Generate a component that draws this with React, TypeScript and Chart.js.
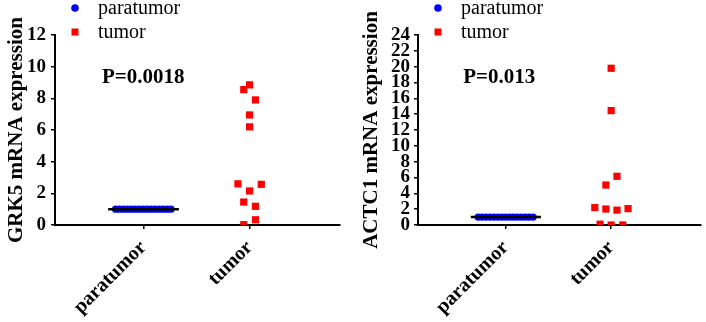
import React, { useEffect, useRef } from "react";
import { Chart, registerables } from "chart.js";

Chart.register(...registerables);

// ---------- data ----------
const categories = ["paratumor", "tumor"];
const legendLabels = ["paratumor", "tumor"];

// GRK5 panel
const grk5Title = "GRK5 mRNA expression";
const grk5P = "P=0.0018";
const grk5Ticks = [0, 2, 4, 6, 8, 10, 12];
const grk5ParaValues = [1, 1, 1, 1, 1, 1, 1, 1, 1, 1, 1, 1, 1, 1, 1];
const grk5ParaJitter = [-0.26, -0.223, -0.186, -0.149, -0.111, -0.074, -0.037, 0, 0.037, 0.074, 0.111, 0.149, 0.186, 0.223, 0.26];
const grk5TumorValues = [8.85, 8.55, 7.9, 6.95, 6.2, 2.6, 2.57, 2.15, 1.45, 1.18, 0.33, 0.02];
const grk5TumorJitter = [0, -0.055, 0.055, 0, 0, -0.11, 0.11, 0, -0.055, 0.055, 0.055, -0.055];
const grk5ParaMedian = 1;

// ACTC1 panel
const actc1Title = "ACTC1 mRNA expression";
const actc1P = "P=0.013";
const actc1Ticks = [0, 2, 4, 6, 8, 10, 12, 14, 16, 18, 20, 22, 24];
const actc1ParaValues = [1, 1, 1, 1, 1, 1, 1, 1, 1, 1, 1, 1, 1, 1, 1];
const actc1ParaJitter = [-0.26, -0.223, -0.186, -0.149, -0.111, -0.074, -0.037, 0, 0.037, 0.074, 0.111, 0.149, 0.186, 0.223, 0.26];
const actc1TumorValues = [19.8, 14.45, 6.15, 5.05, 2.2, 2.02, 1.88, 2.07, 0.1, 0.0, 0.0];
const actc1TumorJitter = [0, 0, 0.055, -0.05, -0.155, -0.05, 0.055, 0.16, -0.105, 0, 0.11];
const actc1ParaMedian = 1;

const SERIF = "'Liberation Serif', 'Times New Roman', serif";
const BLUE = "#0000ff";
const RED = "#ff0000";

type PanelProps = {
  title: string;
  pText: string;
  pPos: [number, number];
  ticks: number[];
  paraValues: number[];
  paraJitter: number[];
  tumorValues: number[];
  tumorJitter: number[];
  median: number;
  yWidth: number;
  padRight: number;
  titlePad: number;
  tickPad: number;
};

const legendPlugin = {
  id: "customLegend",
  afterDraw(chart: any) {
    const ctx = chart.ctx;
    const left = chart.chartArea.left;
    const ds = chart.data.datasets;
    ctx.save();
    ctx.font = `20px ${SERIF}`;
    ctx.textBaseline = "middle";
    ctx.textAlign = "left";
    ctx.fillStyle = ds[1].backgroundColor;
    ctx.beginPath();
    ctx.arc(left + 20, 8, 3.8, 0, Math.PI * 2);
    ctx.fill();
    ctx.fillStyle = "#000";
    ctx.fillText(legendLabels[0], left + 43, 9);
    ctx.fillStyle = ds[2].backgroundColor;
    ctx.fillRect(left + 16.5, 28.5, 7, 7);
    ctx.fillStyle = "#000";
    ctx.fillText(legendLabels[1], left + 43, 33);
    ctx.restore();
  },
};

const pTextPlugin = {
  id: "pText",
  afterDraw(chart: any, _args: any, opts: any) {
    const ctx = chart.ctx;
    const x = chart.scales.x.getPixelForValue(opts.pos[0]);
    const y = chart.scales.y.getPixelForValue(opts.pos[1]);
    ctx.save();
    ctx.font = `bold 21px ${SERIF}`;
    ctx.fillStyle = "#000";
    ctx.textAlign = "center";
    ctx.textBaseline = "alphabetic";
    ctx.fillText(opts.text, x, y);
    ctx.restore();
  },
};

function Panel(p: PanelProps) {
  const ref = useRef<HTMLCanvasElement | null>(null);
  useEffect(() => {
    if (!ref.current) return;
    const paraData = p.paraValues.map((v, i) => ({ x: 1 + p.paraJitter[i], y: v }));
    const tumorData = p.tumorValues.map((v, i) => ({ x: 2 + p.tumorJitter[i], y: v }));
    const chart = new Chart(ref.current, {
      type: "scatter",
      data: {
        datasets: [
          {
            type: "line",
            label: "median",
            data: [
              { x: 0.67, y: p.median },
              { x: 1.335, y: p.median },
            ],
            borderColor: "#000",
            borderWidth: 2.5,
            pointRadius: 0,
            fill: false,
          } as any,
          {
            label: legendLabels[0],
            data: paraData,
            backgroundColor: BLUE,
            borderColor: BLUE,
            borderWidth: 0,
            pointStyle: "circle",
            pointRadius: 3.7,
          },
          {
            label: legendLabels[1],
            data: tumorData,
            backgroundColor: RED,
            borderColor: RED,
            borderWidth: 0,
            pointStyle: "rect",
            pointRadius: 5.1,
          },
        ],
      },
      options: {
        animation: false,
        responsive: false,
        devicePixelRatio: 1,
        layout: { padding: { top: 35, right: p.padRight, left: 0, bottom: 0 } },
        plugins: {
          legend: { display: false },
          tooltip: { enabled: false },
          pText: { text: p.pText, pos: p.pPos },
        } as any,
        scales: {
          x: {
            type: "linear",
            min: 0.17,
            max: 2.85,
            afterBuildTicks: (scale: any) => {
              scale.ticks = categories.map((_, i) => ({ value: i + 1 }));
            },
            afterFit: (scale: any) => {
              scale.height = 97;
            },
            ticks: {
              autoSkip: false,
              minRotation: 45,
              maxRotation: 45,
              color: "#000",
              padding: 7,
              font: { family: SERIF, size: 20, weight: "bold" },
              callback: (v: any) => categories[Math.round(v) - 1] ?? "",
            },
            grid: {
              display: true,
              drawOnChartArea: false,
              drawTicks: true,
              tickLength: 4,
              color: "#000",
              lineWidth: 1.5,
            },
            border: { display: true, color: "#000", width: 2 },
          },
          y: {
            type: "linear",
            min: p.ticks[0],
            max: p.ticks[p.ticks.length - 1],
            afterBuildTicks: (scale: any) => {
              scale.ticks = p.ticks.map((v) => ({ value: v }));
            },
            afterFit: (scale: any) => {
              scale.width = p.yWidth;
            },
            ticks: {
              autoSkip: false,
              color: "#000",
              padding: p.tickPad,
              font: { family: SERIF, size: 19, weight: "bold", lineHeight: 1 },
            },
            grid: {
              display: true,
              drawOnChartArea: false,
              drawTicks: true,
              tickLength: 4,
              color: "#000",
              lineWidth: 1.5,
            },
            border: { display: true, color: "#000", width: 2 },
            title: {
              display: true,
              text: p.title,
              color: "#000",
              font: { family: SERIF, size: 21, weight: "bold" },
              padding: { top: p.titlePad, bottom: 0 },
            },
          },
        },
      },
      plugins: [legendPlugin, pTextPlugin],
    });
    return () => chart.destroy();
  }, []);
  return <canvas ref={ref} width={353} height={322} style={{ display: "block" }} />;
}

export default function App() {
  return (
    <div style={{ position: "fixed", left: 0, top: 0, width: 706, height: 322, display: "flex", background: "#fff" }}>
      <Panel
        title={grk5Title}
        pText={grk5P}
        pPos={[1.0, 8.95]}
        ticks={grk5Ticks}
        paraValues={grk5ParaValues}
        paraJitter={grk5ParaJitter}
        tumorValues={grk5TumorValues}
        tumorJitter={grk5TumorJitter}
        median={grk5ParaMedian}
        yWidth={55}
        padRight={13}
        titlePad={4}
        tickPad={5}
      />
      <Panel
        title={actc1Title}
        pText={actc1P}
        pPos={[0.94, 17.9]}
        ticks={actc1Ticks}
        paraValues={actc1ParaValues}
        paraJitter={actc1ParaJitter}
        tumorValues={actc1TumorValues}
        tumorJitter={actc1TumorJitter}
        median={actc1ParaMedian}
        yWidth={65}
        padRight={0}
        titlePad={6}
        tickPad={4}
      />
    </div>
  );
}
